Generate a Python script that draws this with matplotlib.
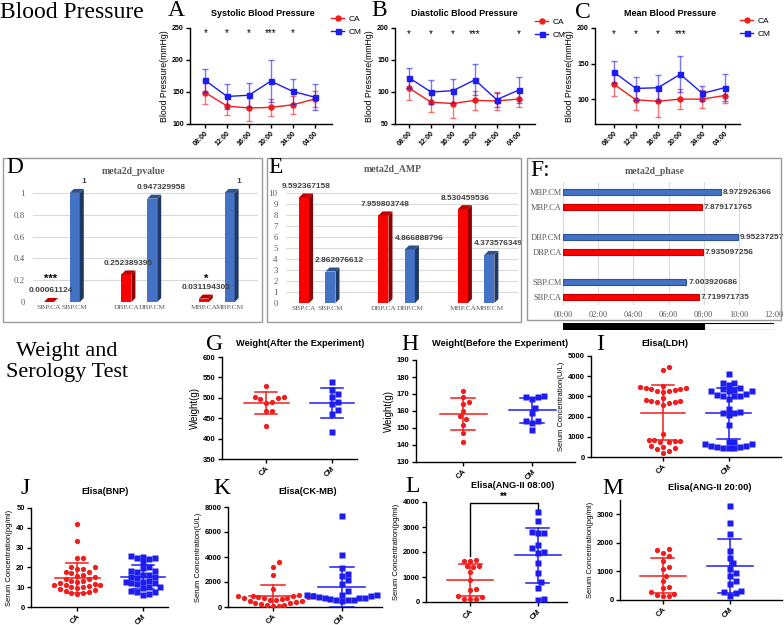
import numpy as np
import matplotlib
matplotlib.use("Agg")
import matplotlib.pyplot as plt
from matplotlib.lines import Line2D
from matplotlib.patches import Polygon, Rectangle
from matplotlib.ticker import FuncFormatter

# ---------------- blood pressure: group mean and SD per time point ----------------
times = ["08:00", "12:00", "16:00", "20:00", "24:00", "04:00"]
sbp_ca = [149, 128, 125, 126, 130, 139]
sbp_ca_sd = [18, 14, 21, 13, 14, 13]
sbp_cm = [168, 143, 145, 167, 151, 142]
sbp_cm_sd = [18, 20, 19, 33, 20, 20]
dbp_ca = [106, 84, 82, 87, 86, 89]
dbp_ca_sd = [18, 15, 23, 15, 14, 12]
dbp_cm = [122, 100, 102, 119, 88, 103]
dbp_cm_sd = [15, 19, 19, 24, 11, 20]
mbp_ca = [121, 99, 97, 100, 100, 105]
mbp_ca_sd = [17, 14, 22, 14, 13, 10]
mbp_cm = [138, 115, 116, 135, 108, 116]
mbp_cm_sd = [16, 16, 18, 25, 10, 19]
sbp_sig = ["*", "*", "*", "***", "*", ""]
dbp_sig = ["*", "*", "*", "***", "", "*"]
mbp_sig = ["*", "*", "*", "***", "", ""]

# ---------------- meta2d results ----------------
meta_names = ["SBP.CA", "SBP.CM", "DBP.CA", "DBP.CM", "MBP.CA", "MBP.CM"]
meta_pvalue = [0.00061124, 1, 0.252389395, 0.947329958, 0.031194303, 1]
meta_pvalue_sig = ["***", "", "", "", "*", ""]
meta_amp = [9.592367158, 2.862976612, 7.959803748, 4.866888796, 8.530459536, 4.373576349]
meta_phase = [7.719971735, 7.003920686, 7.935097256, 9.95237257, 7.879171765, 8.972926366]
phase_ticks = ["00:00", "02:00", "04:00", "06:00", "08:00", "10:00", "12:00"]
dark_hours = (0, 8)
light_hours = (8, 12)

# ---------------- weight and serology (individual animals) ----------------
g_ca = [530, 502, 496, 500, 502, 488, 490, 468, 467, 431]
g_cm = [539, 520, 510, 502, 490, 486, 469, 460, 415]
h_ca = [172, 168, 165, 164, 160, 157, 155, 152, 147, 142]
h_cm = [169, 168, 168, 167, 162, 159, 154, 154, 153, 149]
i_ca = [4480, 4320, 3530, 3460, 3440, 3430, 3380, 3350, 3300, 3260, 3250, 3200,
        2900, 2800, 2780, 2750, 2720, 2700, 2650, 2560,
        1130, 850, 830, 800, 780, 760, 740, 560, 500, 460, 420, 300, 180]
i_cm = [4100, 3680, 3650, 3560, 3400, 3350, 3300, 3260, 3250, 3250, 3100, 3050,
        3000, 3000, 3020, 2850, 2380, 2200, 2180, 2220, 2070, 1580,
        750, 720, 650, 550, 500, 450, 430, 430, 500, 560, 620]
j_ca = [42, 33.5, 25, 24.5, 20, 20, 19, 19, 17.5, 17.5, 17, 16, 15.5, 15, 14, 14,
        13, 13, 12.5, 12, 11.5, 11, 11, 11, 10.5, 10, 10, 9.5, 9, 8.5, 8, 7.5, 7, 7, 6.5]
j_cm = [26, 25.5, 25, 24.5, 24, 22.5, 20, 19.5, 18, 18, 17.5, 16, 16, 15, 15, 14.5,
        13, 12.5, 12.5, 12, 12, 11.5, 10, 10, 9.5, 8, 7.5, 7.5, 6.5, 6]
k_ca = [3600, 3200, 2550, 1450, 1000, 950, 900, 900, 850, 800, 800, 750, 700, 700,
        650, 600, 550, 500, 450, 400, 350, 300, 250, 200, 150, 100, 100]
k_cm = [7300, 4150, 3150, 2650, 2500, 2150, 1850, 1300, 1000, 950, 950, 900, 850,
        800, 750, 700, 700, 650, 600, 600, 550, 500]
l_ca = [1670, 1650, 1640, 1450, 1430, 1420, 1200, 890, 530, 480, 240, 220, 130, 120, 110]
l_cm = [3600, 3230, 2800, 2780, 2760, 2280, 2180, 2020, 1980, 1580, 1180, 800, 580, 110, 100]
l_bracket = [1830, 3950, 3700]   # left foot, top, right foot
m_ca = [1800, 1750, 1650, 1550, 1380, 1150, 1100, 850, 650, 450, 420, 270, 200, 170, 150, 150]
m_cm = [3300, 2680, 2300, 1720, 1480, 1300, 1100, 950, 850, 650, 550, 300, 250, 270, 130]
groups = ["CA", "CM"]

# ---------------- styling ----------------
W, H = 784, 625
RED, BLUE = "#f21d1d", "#1d1df2"
RED_E, BLUE_E = (0.95, 0.12, 0.12, 0.6), (0.12, 0.12, 0.95, 0.6)
SERIF = ["Liberation Serif", "DejaVu Serif"]
GRAY = "#595959"
plt.rcParams["font.family"] = ["Liberation Sans", "DejaVu Sans"]
plt.rcParams["font.weight"] = "bold"

fig = plt.figure(figsize=(W / 100, H / 100), dpi=100)


def rect(l, t, r, b):
    return [l / W, 1 - b / H, (r - l) / W, (b - t) / H]


def put(x, y, s, **kw):
    fig.text(x / W, 1 - y / H, s, **kw)


def letter(x, y, s, size=17):
    put(x, y, s, ha="center", va="center", fontsize=size, family=SERIF, weight="normal")


def prism(ax, yticks, labelsize=5):
    for s in ("top", "right"):
        ax.spines[s].set_visible(False)
    for s in ("left", "bottom"):
        ax.spines[s].set_linewidth(1.0)
    ax.set_yticks(yticks)
    ax.tick_params(direction="out", length=3, width=1, labelsize=labelsize, pad=1.5)


# ---------------- top row: blood pressure ----------------
put(0, 13, "Blood Pressure", ha="left", va="center", fontsize=17, family=SERIF, weight="normal")

bp_sets = [
    ("A", "Systolic Blood Pressure", sbp_ca, sbp_ca_sd, sbp_cm, sbp_cm_sd, sbp_sig),
    ("B", "Diastolic Blood Pressure", dbp_ca, dbp_ca_sd, dbp_cm, dbp_cm_sd, dbp_sig),
    ("C", "Mean Blood Pressure", mbp_ca, mbp_ca_sd, mbp_cm, mbp_cm_sd, mbp_sig),
]
bp_geom = [
    dict(box=(190, 28, 332, 124), xlim=(-0.7, 5.8), ylim=(100, 250), yt=[100, 150, 200, 250],
         sig_y=242, let=(176, 11), tit=263, leg=(331, 15)),
    dict(box=(395, 28, 535, 124), xlim=(-0.65, 5.75), ylim=(50, 200), yt=[50, 100, 150, 200],
         sig_y=191, let=(379, 11), tit=464, leg=(535, 18)),
    dict(box=(595, 28, 740, 124), xlim=(-0.85, 5.7), ylim=(65, 200), yt=[100, 150, 200],
         sig_y=191.5, let=(583, 12), tit=670, leg=(740, 17)),
]
xt = np.arange(len(times))
for (let, title, ca, ca_sd, cm, cm_sd, sig), g in zip(bp_sets, bp_geom):
    ax = fig.add_axes(rect(*g["box"]))
    ax.errorbar(xt, ca, yerr=ca_sd, color=RED, ecolor=RED_E, marker="o", ms=3.6,
                lw=1, elinewidth=1, capsize=2, capthick=1, zorder=3)
    ax.errorbar(xt, cm, yerr=cm_sd, color=BLUE, ecolor=BLUE_E, marker="s", ms=3.6,
                lw=1, elinewidth=1, capsize=2, capthick=1, zorder=4)
    for i, s in enumerate(sig):
        ax.text(i, g["sig_y"], s, ha="center", va="center", fontsize=7, weight="normal")
    ax.set_xlim(*g["xlim"])
    ax.set_ylim(*g["ylim"])
    prism(ax, g["yt"], labelsize=5)
    ax.set_xticks(xt)
    ax.set_xticklabels(times, rotation=45, ha="right", rotation_mode="anchor", fontsize=5)
    ax.set_ylabel("Blood Pressure(mmHg)", fontsize=6.3, labelpad=2)
    put(g["tit"], 13, title, ha="center", va="center", fontsize=6.5)
    letter(*g["let"], let)
    handles = [Line2D([], [], color=RED, marker="o", ms=3.6, lw=1),
               Line2D([], [], color=BLUE, marker="s", ms=3.6, lw=1)]
    ax.legend(handles, groups, loc="upper left", bbox_to_anchor=(g["leg"][0] / W, 1 - g["leg"][1] / H),
              bbox_transform=fig.transFigure, frameon=False, borderpad=0, borderaxespad=0,
              handlelength=1.6, handletextpad=0.5, labelspacing=0.6,
              prop=dict(size=6, weight="normal"))

# ---------------- middle row: meta2d ----------------
for l, t, r, b in [(3, 158, 262, 322), (267, 158, 521, 322), (527, 158, 781, 320)]:
    fig.add_artist(Rectangle((l / W, 1 - b / H), (r - l) / W, (b - t) / H, transform=fig.transFigure,
                             fill=False, ec="#9a9a9a", lw=1))

xpos = np.array([grp * 3 + m for grp in range(3) for m in range(2)], dtype=float)
is_ca = [n.endswith("CA") for n in meta_names]
face = [("#ff0000" if c else "#4472c4") for c in is_ca]
side = [("#8f0000" if c else "#1f3864") for c in is_ca]
top = [("#c00000" if c else "#2f528f") for c in is_ca]


def bars3d(ax, vals, px_x, px_y, texts, sig=None):
    w, dx, dy = 10 / px_x, 4 / px_x, 4 / px_y
    ax.bar(xpos, vals, width=w, color=face, zorder=3)
    for x, h, sc, tc in zip(xpos, vals, side, top):
        ax.add_patch(Polygon([(x + w / 2, 0), (x + w / 2 + dx, dy), (x + w / 2 + dx, h + dy), (x + w / 2, h)],
                             closed=True, fc=sc, ec="none", zorder=3))
        ax.add_patch(Polygon([(x - w / 2, h), (x - w / 2 + dx, h + dy), (x + w / 2 + dx, h + dy), (x + w / 2, h)],
                             closed=True, fc=tc, ec="none", zorder=3))
    for x, h, s, ca in zip(xpos, vals, texts, is_ca):
        shift = 0 if ca else 7 / px_x
        ax.text(x + dx / 2 + shift, h + 11 / px_y, s, ha="center", va="center", fontsize=6,
                color="#404040", zorder=4)
    if sig:
        for x, s in zip(xpos, sig):
            if s:
                ax.text(x + dx / 2, 23 / px_y, s, ha="center", va="center", fontsize=8, color="black", zorder=4)
    for s in ax.spines.values():
        s.set_visible(False)
    ax.grid(axis="y", color="#d9d9d9", lw=0.8, zorder=0)
    ax.set_axisbelow(True)
    ax.set_xticks(xpos)
    ax.set_xticklabels(meta_names, family=SERIF, weight="normal", fontsize=5.3, color=GRAY)
    ax.tick_params(length=0, pad=2)
    ax.tick_params(axis="y", pad=6)
    for lab in ax.get_yticklabels():
        lab.set(family=SERIF, weight="normal", fontsize=6.3, color=GRAY)


# D: p-value
axd = fig.add_axes(rect(33, 182, 258, 302))
axd.set_xlim(-0.62, 8.1)
axd.set_ylim(0, 1.1)
axd.set_yticks(np.arange(0, 1.01, 0.2))
axd.yaxis.set_major_formatter(FuncFormatter(lambda v, p: f"{v:g}"))
bars3d(axd, meta_pvalue, 25.8, 109, [str(v) for v in meta_pvalue], meta_pvalue_sig)
put(133, 171, "meta2d_pvalue", ha="center", va="center", fontsize=7, family=SERIF, color=GRAY)
letter(15, 168, "D")

# E: amplitude
axe = fig.add_axes(rect(286, 182, 518, 303))
axe.set_xlim(-0.68, 8.08)
axe.set_ylim(0, 11)
axe.set_yticks(range(0, 11))
bars3d(axe, meta_amp, 26.5, 11, [str(v) for v in meta_amp])
put(393, 169, "meta2d_AMP", ha="center", va="center", fontsize=7, family=SERIF, color=GRAY)
letter(276, 168, "E")

# F: phase (horizontal bars)
axf = fig.add_axes(rect(563, 182, 774, 305))
axf.barh(xpos, meta_phase, height=0.4, color=face, edgecolor=top, lw=0.8, zorder=3)
for y, v in zip(xpos, meta_phase):
    axf.text(v + 0.12, y, str(v), ha="left", va="center", fontsize=6, color="#404040", zorder=4)
axf.set_xlim(0, 12)
axf.set_ylim(-0.53, 7.67)
axf.set_xticks(np.arange(0, 12.1, 2))
axf.set_xticklabels(phase_ticks, family=SERIF, weight="normal", fontsize=6, color=GRAY)
axf.set_yticks(xpos)
axf.set_yticklabels(meta_names, family=SERIF, weight="normal", fontsize=6, color=GRAY)
axf.grid(axis="x", color="#d9d9d9", lw=0.8, zorder=0)
axf.set_axisbelow(True)
for s in axf.spines.values():
    s.set_visible(False)
axf.tick_params(length=0, pad=1)
axf.tick_params(axis="x", pad=4)
put(655, 171, "meta2d_phase", ha="center", va="center", fontsize=7, family=SERIF, color=GRAY)
letter(540, 170, "F:")

axld = fig.add_axes(rect(563, 323, 774, 330))
axld.barh(0, dark_hours[1] - dark_hours[0], left=dark_hours[0], height=1, color="black", lw=0)
axld.barh(0, light_hours[1] - light_hours[0], left=light_hours[0], height=1, color="white", ec="black", lw=0.8)
axld.set_xlim(0, 12)
axld.set_ylim(-0.5, 0.5)
axld.axis("off")

# ---------------- bottom rows: weight and serology ----------------
put(67, 362, "Weight and\nSerology Test", ha="center", va="center", fontsize=16, family=SERIF,
    weight="normal", linespacing=1.15)


def swarm(ax, xc, vals, step_px):
    ys = ax.transData.transform(np.column_stack([np.full(len(vals), xc), vals]))[:, 1]
    placed, offs = [], np.zeros(len(vals))
    for i in np.argsort(ys):
        k = 0
        while True:
            cands = [0.0] if k == 0 else [k * step_px / 2, -k * step_px / 2]
            ok = [c for c in cands if all((c - px) ** 2 + (ys[i] - py) ** 2 >= step_px ** 2 for px, py in placed)]
            if ok:
                break
            k += 1
        placed.append((ok[0], ys[i]))
        offs[i] = ok[0]
    unit = ax.transData.transform((1, 0))[0] - ax.transData.transform((0, 0))[0]
    return offs / unit


scatter_sets = [
    dict(let="G", title="Weight(After the Experiment)", ylab="Weight(g)", ca=g_ca, cm=g_cm,
         box=(222, 357, 357, 459), xlim=(-0.67, 1.38), ylim=(350, 600), yt=range(350, 601, 50),
         letp=(215, 344), titp=(300, 343), ylsize=7),
    dict(let="H", title="Weight(Before the Experiment)", ylab="Weight(g)", ca=h_ca, cm=h_cm,
         box=(416, 360, 575, 462), xlim=(-0.68, 1.62), ylim=(130, 190), yt=range(130, 191, 10),
         letp=(410, 344), titp=(500, 343), ylsize=7),
    dict(let="I", title="Elisa(LDH)", ylab="Serum Concentration(U/L)", ca=i_ca, cm=i_cm,
         box=(591, 356, 781, 457), xlim=(-1.1, 1.8), ylim=(0, 5000), yt=range(0, 5001, 1000),
         letp=(600, 344), titp=(665, 343), ylsize=5.5),
    dict(let="J", title="Elisa(BNP)", ylab="Serum Concentration(pg/ml)", ca=j_ca, cm=j_cm,
         box=(31, 508, 168, 607), xlim=(-0.7, 1.38), ylim=(0, 50), yt=range(0, 51, 10),
         letp=(25, 488), titp=(105, 491), ylsize=5.5),
    dict(let="K", title="Elisa(CK-MB)", ylab="Serum Concentration(U/L)", ca=k_ca, cm=k_cm,
         box=(228, 507, 382, 607), xlim=(-0.65, 1.58), ylim=(0, 8000), yt=range(0, 8001, 2000),
         letp=(222, 489), titp=(308, 491), ylsize=5.5),
    dict(let="L", title="Elisa(ANG-II 08:00)", ylab="Serum Concentration(pg/ml)", ca=l_ca, cm=l_cm,
         box=(426, 502, 567, 602), xlim=(-0.65, 1.43), ylim=(0, 4000), yt=range(0, 4001, 1000),
         letp=(413, 486), titp=(513, 485), ylsize=5.5),
    dict(let="M", title="Elisa(ANG-II 20:00)", ylab="Serum Concentration(pg/ml)", ca=m_ca, cm=m_cm,
         box=(620, 500, 782, 600), xlim=(-0.64, 1.78), ylim=(0, 3500), yt=range(0, 3001, 1000),
         letp=(613, 489), titp=(710, 488), ylsize=5.5),
]

for p in scatter_sets:
    ax = fig.add_axes(rect(*p["box"]))
    ax.set_xlim(*p["xlim"])
    ax.set_ylim(*p["ylim"])
    for xc, (vals, col, mk) in enumerate([(p["ca"], RED, "o"), (p["cm"], BLUE, "s")]):
        vals = np.asarray(vals, dtype=float)
        offs = swarm(ax, xc, vals, 5.8)
        ax.plot(xc + offs, vals, mk, color=col, ms=3.8, mec="none", zorder=3)
        mean, sd = vals.mean(), vals.std(ddof=1)
        ax.plot([xc - 0.34, xc + 0.34], [mean, mean], color=col, lw=1.1, zorder=4)
        ax.plot([xc, xc], [mean - sd, mean + sd], color=col, lw=1.1, zorder=4)
        for e in (mean - sd, mean + sd):
            ax.plot([xc - 0.17, xc + 0.17], [e, e], color=col, lw=1.1, zorder=4)
    prism(ax, list(p["yt"]), labelsize=5.5)
    ax.set_xticks([0, 1])
    ax.set_xticklabels(groups, rotation=45, ha="right", rotation_mode="anchor", fontsize=5.5)
    ax.set_ylabel(p["ylab"], fontsize=p["ylsize"], labelpad=2)
    put(*p["titp"], p["title"], ha="center", va="center", fontsize=6.7)
    letter(*p["letp"], p["let"])
    if p["let"] == "L":
        ax.plot([0, 0, 1, 1], [l_bracket[0], l_bracket[1], l_bracket[1], l_bracket[2]],
                color="black", lw=1, clip_on=False)
        ax.text(0.5, l_bracket[1] + 60, "**", ha="center", va="bottom", fontsize=7)

fig.savefig("out.png", dpi=100)
